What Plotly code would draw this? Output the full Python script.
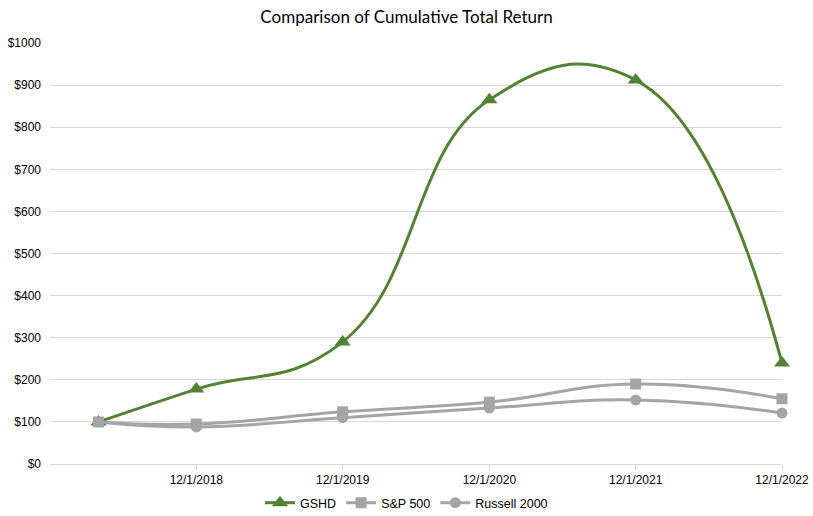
import plotly.graph_objects as go

dates = ["2018-04-01", "2018-12-01", "2019-12-01", "2020-12-01", "2021-12-01", "2022-12-01"]
tick_dates = ["2018-12-01", "2019-12-01", "2020-12-01", "2021-12-01", "2022-12-01"]
tick_labels = ["12/1/2018", "12/1/2019", "12/1/2020", "12/1/2021", "12/1/2022"]
gshd = [100, 178, 290, 865, 912, 240]
sp500 = [100, 95, 124, 147, 190, 155]
russell = [100, 88, 110, 133, 152, 121]
y_ticks = [0, 100, 200, 300, 400, 500, 600, 700, 800, 900, 1000]
y_labels = ["$0", "$100", "$200", "$300", "$400", "$500", "$600", "$700", "$800", "$900", "$1000"]

fig = go.Figure()
fig.add_trace(go.Scatter(x=dates, y=gshd, name="GSHD", mode="lines+markers", cliponaxis=False,
                         line=dict(color="#548235", width=3, shape="spline", smoothing=1.3),
                         marker=dict(symbol="triangle-up", size=14, color="#548235")))
fig.add_trace(go.Scatter(x=dates, y=sp500, name="S&P 500", mode="lines+markers", cliponaxis=False,
                         line=dict(color="#A5A5A5", width=3, shape="spline", smoothing=1.3),
                         marker=dict(symbol="square", size=11, color="#A5A5A5")))
fig.add_trace(go.Scatter(x=dates, y=russell, name="Russell 2000", mode="lines+markers", cliponaxis=False,
                         line=dict(color="#A5A5A5", width=3, shape="spline", smoothing=1.3),
                         marker=dict(symbol="circle", size=11, color="#A5A5A5")))

fig.update_layout(
    width=813, height=516,
    margin=dict(l=50, r=31, t=43, b=52),
    paper_bgcolor="white", plot_bgcolor="white",
    title=dict(text="Comparison of Cumulative Total Return", x=0.5, xanchor="center",
               y=0.967, yanchor="middle", yref="container",
               font=dict(family="Lato, Open Sans, sans-serif", size=17, color="#000000")),
    font=dict(family="Liberation Sans, Arial, sans-serif", size=12, color="#000000"),
    showlegend=True,
    legend=dict(orientation="h", x=0.5, xanchor="center", xref="container",
                y=0.025, yanchor="middle", yref="container",
                font=dict(size=12.5, color="#000000"), itemwidth=30),
    xaxis=dict(type="date", range=["2017-12-01", "2022-12-01"],
               tickvals=tick_dates, ticktext=tick_labels, automargin=False,
               showgrid=False, showline=True, linecolor="#D9D9D9", linewidth=1,
               ticks="outside", ticklen=5, tickcolor="#D9D9D9", zeroline=False),
    yaxis=dict(range=[0, 1000], tickvals=y_ticks, ticktext=y_labels, automargin=False,
               showgrid=True, gridcolor="#D9D9D9", gridwidth=1, zeroline=False,
               showline=False, ticks="", ticklabelstandoff=8),
)

fig.write_html("out.html", config={"displayModeBar": False},
               post_script="document.body.style.margin='0';")
